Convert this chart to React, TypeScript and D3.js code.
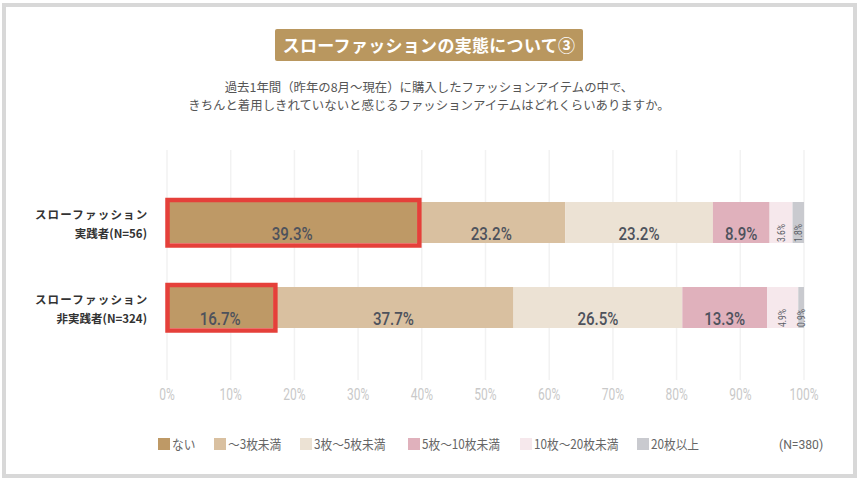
import React from "react";
import * as d3 from "d3";

const categories = ["スローファッション\n実践者(N=56)", "スローファッション\n非実践者(N=324)"];
const seriesNames = ["ない", "〜3枚未満", "3枚〜5枚未満", "5枚〜10枚未満", "10枚〜20枚未満", "20枚以上"];
const row1 = [39.3, 23.2, 23.2, 8.9, 3.6, 1.8];
const row2 = [16.7, 37.7, 26.5, 13.3, 4.9, 0.9];
const rows = [row1, row2];
const ticks = [0, 10, 20, 30, 40, 50, 60, 70, 80, 90, 100];
const colors = ["#be9966", "#d9c0a0", "#ece2d4", "#e0b1bc", "#f6e8ec", "#c9cacf"];
const legendX = [158, 214, 300, 408, 520, 637];

const W = 858, H = 481;
const JP = "'Noto Sans CJK JP', 'Noto Sans', sans-serif";
const NUM = "Roboto, 'Noto Sans', sans-serif";

export default function App() {
  const x = d3.scaleLinear().domain([0, 100]).range([167, 804]);
  const y = d3.scalePoint<string>().domain(categories).range([222.5, 307.5]);
  const bh = 41;

  return (
    <svg width={W} height={H} style={{ position: "absolute", left: 0, top: 0, background: "#fff" }}>
      <rect x={4} y={5} width={851} height={471} fill="#fff" stroke="#d8d8d8" strokeWidth={4} />
      {/* title */}
      <rect x={275} y={29} width={308} height={32} rx={2} fill="#b9975f" />
      <text x={429} y={51.5} textAnchor="middle" fill="#fff" fontFamily={JP} fontWeight={700} fontSize={17} letterSpacing={0.3}>
        スローファッションの実態について③
      </text>
      <text x={429} y={92} textAnchor="middle" fill="#555" fontFamily={JP} fontSize={12.4}>
        過去1年間（昨年の8月～現在）に購入したファッションアイテムの中で、
      </text>
      <text x={429} y={110} textAnchor="middle" fill="#555" fontFamily={JP} fontSize={12.4}>
        きちんと着用しきれていないと感じるファッションアイテムはどれくらいありますか。
      </text>
      {/* grid */}
      {ticks.map((t) => (
        <line key={"g" + t} x1={x(t)} x2={x(t)} y1={150} y2={380} stroke="#f2f2f2" strokeWidth={1.5} />
      ))}
      {ticks.map((t) => (
        <text key={"t" + t} transform={`translate(${x(t)},400) scale(0.75,1)`} textAnchor="middle"
          fill="#c9c9c9" fontFamily={NUM} fontSize={16}>{t}%</text>
      ))}
      {/* bars */}
      {categories.map((c, i) => {
        const vals = rows[i];
        const cy = y(c)!;
        const top = cy - bh / 2;
        const bottom = cy + bh / 2;
        let acc = 0;
        const segs = vals.map((v, j) => {
          const s = { x0: x(acc), x1: x(acc + v), v, j };
          acc += v;
          return s;
        });
        const lines = c.split("\n");
        return (
          <g key={c}>
            {segs.map((s) => (
              <rect key={s.j} x={s.x0} y={top} width={s.x1 - s.x0} height={bh} fill={colors[s.j]} />
            ))}
            {segs.map((s) => {
              const cx = (s.x0 + s.x1) / 2;
              if (s.v >= 5) {
                return (
                  <text key={"l" + s.j} transform={`translate(${cx},${bottom - 3}) scale(0.84,1)`} textAnchor="middle"
                    fill="#4e525c" fontFamily={NUM} fontWeight={500} fontSize={18}>{s.v.toFixed(1)}%</text>
                );
              }
              return (
                <text key={"l" + s.j} transform={`translate(${cx + 3.5},${bottom - 1}) rotate(-90) scale(0.8,1)`} textAnchor="start"
                  fill="#5a5d66" fontFamily={NUM} fontSize={10.5}>{s.v.toFixed(1)}%</text>
              );
            })}
            <rect x={segs[0].x0 + 0.5} y={top - 2} width={segs[0].x1 - segs[0].x0 + 1.5} height={bh + 4.5}
              fill="none" stroke="#e5403a" strokeWidth={4.5} />
            <text x={148.5} y={cy - 3.5} textAnchor="end" fill="#333" fontFamily={JP} fontWeight={700} fontSize={11.5} letterSpacing={1.2}>
              {lines[0]}
            </text>
            <text x={147} y={cy + 15.5} textAnchor="end" fill="#333" fontFamily={JP} fontWeight={700} fontSize={11.5}>
              {lines[1]}
            </text>
          </g>
        );
      })}
      {/* legend */}
      {seriesNames.map((n, i) => (
        <g key={n}>
          <rect x={legendX[i]} y={438} width={12} height={12} fill={colors[i]} />
          <text transform={`translate(${legendX[i] + 14},449) scale(0.9,1)`} fill="#666" fontFamily={JP} fontSize={13}>{n}</text>
        </g>
      ))}
      <text transform={`translate(779,449) scale(0.9,1)`} fill="#666" fontFamily={NUM} fontSize={13.5}>(N=380)</text>
    </svg>
  );
}
